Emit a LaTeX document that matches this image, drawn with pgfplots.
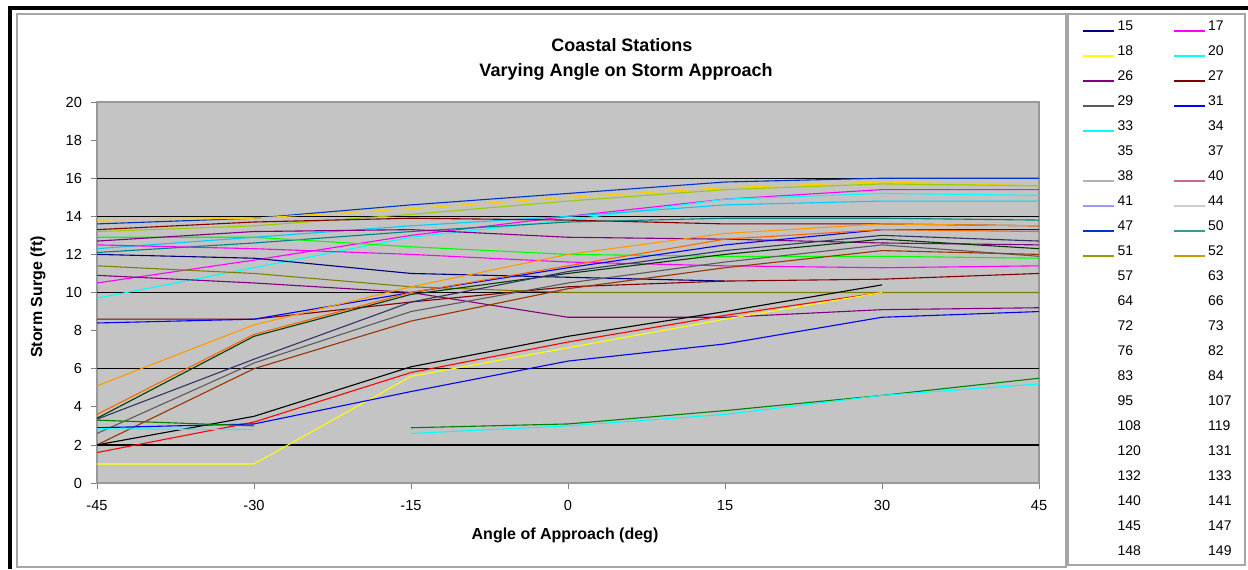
\documentclass[border=0pt]{standalone}
\usepackage{pgfplots}
\pgfplotsset{compat=1.18}
\usepackage{fontspec}
\setmainfont{Liberation Sans}

\definecolor{plotgray}{RGB}{196,196,196}
\definecolor{cnavy}{RGB}{0,0,128}
\definecolor{cmag}{RGB}{255,0,255}
\definecolor{cyel}{RGB}{255,255,0}
\definecolor{ccyan}{RGB}{0,255,255}
\definecolor{cpurple}{RGB}{128,0,128}
\definecolor{cmaroon}{RGB}{128,0,0}
\definecolor{cteal}{RGB}{0,128,128}
\definecolor{cblue}{RGB}{0,0,255}
\definecolor{cgreen}{RGB}{0,128,0}
\definecolor{clime}{RGB}{0,255,0}
\definecolor{corange}{RGB}{255,153,0}
\definecolor{corange2}{RGB}{255,102,0}
\definecolor{colive}{RGB}{128,128,0}
\definecolor{cbrown}{RGB}{153,51,0}
\definecolor{cgray}{RGB}{90,90,90}
\definecolor{cslate}{RGB}{51,51,102}
\definecolor{cdkgreen}{RGB}{0,60,0}
\definecolor{cred}{RGB}{255,0,0}
\definecolor{csky}{RGB}{0,204,255}
\definecolor{cgold}{RGB}{255,204,0}
\definecolor{cyg}{RGB}{153,204,0}
\definecolor{crose}{RGB}{204,102,153}
\definecolor{clav}{RGB}{153,153,255}
\definecolor{croyal}{RGB}{0,51,204}
\definecolor{cteal2}{RGB}{51,153,153}
\definecolor{colive2}{RGB}{153,153,0}
\definecolor{cgold2}{RGB}{204,153,0}

\begin{document}
\begin{tikzpicture}
\path[use as bounding box] (0,0) rectangle (624pt,284.5pt);
% frames
\draw[line width=1.6pt] (5pt,0pt) -- (5pt,280.5pt) -- (624pt,280.5pt);
\draw[gray!70, line width=0.6pt] (8.5pt,1pt) rectangle (533pt,277.5pt);
\draw[gray!70, line width=0.6pt] (534pt,2pt) rectangle (622.5pt,277.5pt);

\begin{axis}[
    at={(48.5pt,43pt)}, anchor=south west,
    scale only axis, width=471pt, height=190.5pt,
    xmin=-45, xmax=45, ymin=0, ymax=20,
    xtick={-45,-30,...,45}, ytick={0,2,...,20},
    xtick pos=lower, ytick pos=left,
    tick align=outside, major tick length=3pt,
    tick style={gray, line width=0.4pt},
    axis line style={gray!80, line width=0.6pt},
    axis background/.style={fill=plotgray},
    ticklabel style={font=\fontsize{7.3}{8}\selectfont},
    xticklabel style={yshift=-2pt},
    yticklabel style={xshift=-1pt},
    /pgf/number format/assume math mode=true,
    extra y ticks={2,6,10,14,16},
    extra y tick labels={},
    extra y tick style={grid=major, major tick length=0pt},
    major grid style={black, line width=0.6pt},
    every axis plot/.append style={line width=0.55pt},
    legend columns=2,
    legend style={at={(1.0457,1.2139)}, anchor=north west, draw=none, fill=none,
        inner sep=0pt, font=\fontsize{7}{8}\selectfont, row sep=7.2pt, column sep=1.5pt,
        nodes={inner sep=0pt, text height=5pt, text depth=0pt, anchor=base west},
        /tikz/every even column/.append style={column sep=16pt}},
    legend image code/.code={\draw[#1, line width=0.6pt] (0pt,0pt) -- (15.5pt,0pt);},
]
% upper cluster
\addplot[croyal, forget plot] coordinates {(-45,13.6) (-30,13.9) (-15,14.6) (0,15.2) (15,15.8) (30,16.0) (45,16.0)};
\addplot[cgold, forget plot] coordinates {(-45,13.8) (-30,13.9) (-15,14.4) (0,15.0) (15,15.5) (30,15.8) (45,15.6)};
\addplot[cyg, forget plot] coordinates {(-45,13.2) (-30,13.5) (-15,14.1) (0,14.8) (15,15.4) (30,15.7) (45,15.6)};
\addplot[cmag, forget plot] coordinates {(-45,10.5) (-30,11.7) (-15,13.0) (0,14.0) (15,14.9) (30,15.4) (45,15.4)};
\addplot[ccyan, forget plot] coordinates {(-45,9.7) (-30,11.3) (-15,12.9) (0,13.8) (15,14.9) (30,15.2) (45,15.1)};
\addplot[csky, forget plot] coordinates {(-45,12.3) (-30,12.9) (-15,13.5) (0,14.0) (15,14.6) (30,14.8) (45,14.8)};
% middle, nearly flat
\addplot[cmaroon, forget plot] coordinates {(-45,13.3) (-30,13.7) (-15,13.9) (0,13.8) (15,13.6) (30,13.6) (45,13.5)};
\addplot[cteal, forget plot] coordinates {(-45,12.1) (-30,12.6) (-15,13.2) (0,13.7) (15,13.9) (30,13.9) (45,13.8)};
\addplot[clime, forget plot] coordinates {(-45,12.9) (-30,12.9) (-15,12.4) (0,12.0) (15,11.9) (30,11.9) (45,11.8)};
\addplot[cmag, forget plot] coordinates {(-45,12.5) (-30,12.3) (-15,12.0) (0,11.6) (15,11.4) (30,11.3) (45,11.4)};
\addplot[cnavy, forget plot] coordinates {(-45,12.0) (-30,11.8) (-15,11.0) (0,10.8) (15,10.6)};
\addplot[cpurple, forget plot] coordinates {(-45,12.7) (-30,13.2) (-15,13.3) (0,12.9) (15,12.8) (30,12.6) (45,12.5)};
\addplot[colive, forget plot] coordinates {(-45,11.4) (-30,11.0) (-15,10.3) (0,10.0) (15,10.0) (30,10.0) (45,10.0)};
\addplot[cpurple, forget plot] coordinates {(-45,10.9) (-30,10.5) (-15,10.0) (0,8.7) (15,8.7) (30,9.1) (45,9.2)};
\addplot[cmaroon, forget plot] coordinates {(-45,8.6) (-30,8.6) (-15,9.5) (0,10.3) (15,10.6) (30,10.7) (45,11.0)};
\addplot[cblue, forget plot] coordinates {(-45,8.4) (-30,8.6) (-15,10.0) (0,11.3) (15,12.5) (30,13.3) (45,13.3)};
% steep rising group
\addplot[corange, forget plot] coordinates {(-45,5.1) (-30,8.3) (-15,10.3) (0,12.0) (15,13.1) (30,13.6) (45,13.5)};
\addplot[corange2, forget plot] coordinates {(-45,3.6) (-30,7.8) (-15,10.0) (0,11.4) (15,12.8) (30,13.3) (45,13.2)};
\addplot[cdkgreen, forget plot] coordinates {(-45,3.4) (-30,7.7) (-15,9.9) (0,11.0) (15,12.0) (30,12.8) (45,12.3)};
\addplot[cslate, forget plot] coordinates {(-45,3.35) (-30,6.5) (-15,9.5) (0,11.1) (15,12.2) (30,13.0) (45,12.7)};
\addplot[cgray, forget plot] coordinates {(-45,2.6) (-30,6.3) (-15,9.0) (0,10.5) (15,11.6) (30,12.5) (45,11.9)};
\addplot[cbrown, forget plot] coordinates {(-45,2.0) (-30,6.0) (-15,8.5) (0,10.2) (15,11.3) (30,12.2) (45,12.0)};
% lower rising group
\addplot[black, forget plot] coordinates {(-45,2.0) (-30,3.5) (-15,6.1) (0,7.7) (15,9.0) (30,10.4)};
\addplot[cred, forget plot] coordinates {(-45,1.6) (-30,3.2) (-15,5.8) (0,7.4) (15,8.8) (30,10.0)};
\addplot[cyel, forget plot] coordinates {(-45,1.0) (-30,1.0) (-15,5.6) (0,7.1) (15,8.6) (30,10.0)};
\addplot[cblue, forget plot] coordinates {(-45,2.9) (-30,3.1) (-15,4.8) (0,6.4) (15,7.3) (30,8.7) (45,9.0)};
% bottom pair
\addplot[cgreen, forget plot] coordinates {(-45,3.3) (-30,3.0)};
\addplot[cgreen, forget plot] coordinates {(-15,2.9) (0,3.1) (15,3.8) (30,4.6) (45,5.5)};
\addplot[ccyan, forget plot] coordinates {(-45,2.85) (-30,2.8)};
\addplot[ccyan, forget plot] coordinates {(-15,2.6) (0,3.0) (15,3.6) (30,4.6) (45,5.2)};

% legend entries
\addlegendimage{cnavy}
\addlegendimage{cmag}
\addlegendimage{cyel}
\addlegendimage{ccyan}
\addlegendimage{cpurple}
\addlegendimage{cmaroon}
\addlegendimage{cgray}
\addlegendimage{cblue}
\addlegendimage{ccyan}
\addlegendimage{white}
\addlegendimage{white}
\addlegendimage{white}
\addlegendimage{gray!60}
\addlegendimage{crose}
\addlegendimage{clav}
\addlegendimage{gray!40}
\addlegendimage{croyal}
\addlegendimage{cteal2}
\addlegendimage{colive2}
\addlegendimage{cgold2}
\addlegendimage{white}\addlegendimage{white}\addlegendimage{white}\addlegendimage{white}
\addlegendimage{white}\addlegendimage{white}\addlegendimage{white}\addlegendimage{white}
\addlegendimage{white}\addlegendimage{white}\addlegendimage{white}\addlegendimage{white}
\addlegendimage{white}\addlegendimage{white}\addlegendimage{white}\addlegendimage{white}
\addlegendimage{white}\addlegendimage{white}\addlegendimage{white}\addlegendimage{white}
\addlegendimage{white}\addlegendimage{white}\addlegendimage{white}\addlegendimage{white}
\legend{15,17,18,20,26,27,29,31,33,34,35,37,38,40,41,44,47,50,51,52,57,63,64,66,72,73,76,82,83,84,95,107,108,119,120,131,132,133,140,141,145,147,148,149}
\end{axis}

\node[font=\bfseries\fontsize{9}{10}\selectfont] at (311pt,262pt) {Coastal Stations};
\node[font=\bfseries\fontsize{9}{10}\selectfont] at (313pt,248.5pt) {Varying Angle on Storm Approach};
\node[font=\bfseries\fontsize{8}{9}\selectfont] at (282.5pt,17pt) {Angle of Approach (deg)};
\node[font=\bfseries\fontsize{8}{9}\selectfont, rotate=90] at (19pt,136pt) {Storm Surge (ft)};
\end{tikzpicture}
\end{document}
